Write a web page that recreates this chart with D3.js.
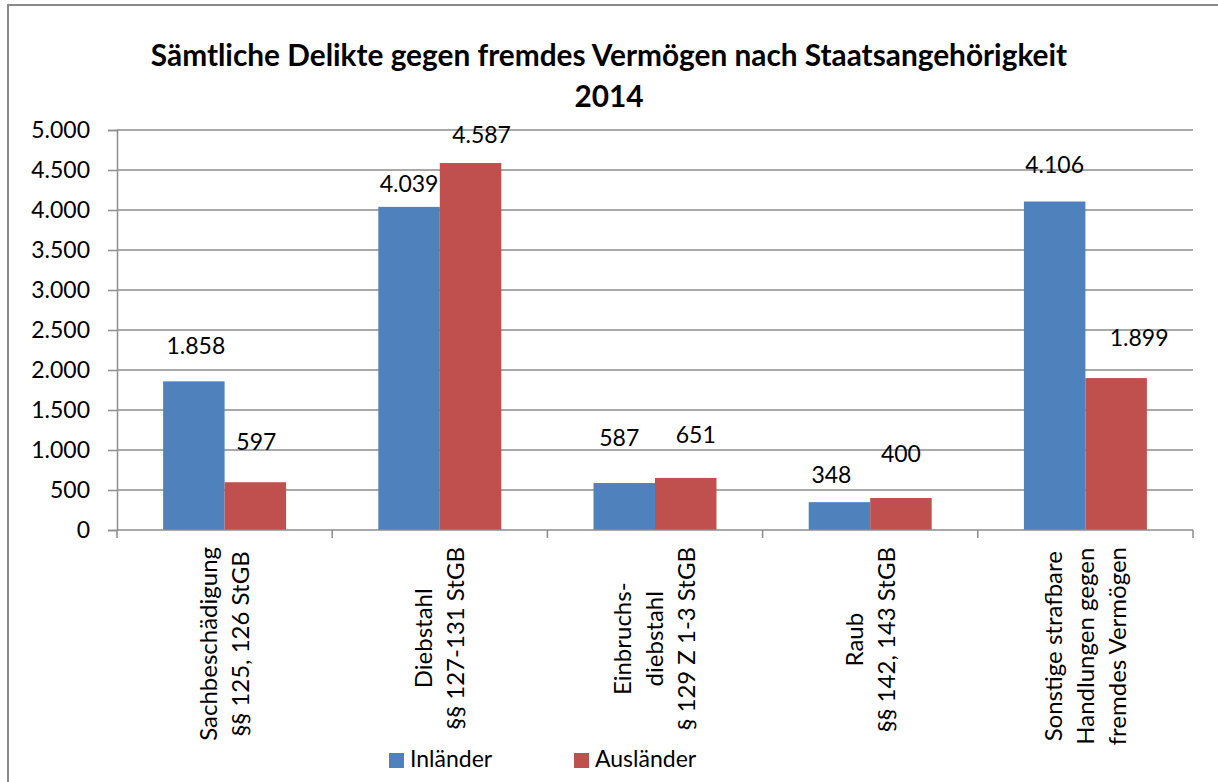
<!DOCTYPE html>
<html>
<head>
<meta charset="utf-8">
<script src="https://cdn.jsdelivr.net/npm/d3@7"></script>
<style>
  body { margin: 0; background: #fff; }
  svg { display: block; font-family: Lato, "Noto Sans", sans-serif; }
</style>
</head>
<body>
<svg id="chart" width="1218" height="782"></svg>
<script>
// data
var categories = [
  ["Sachbeschädigung", "§§ 125, 126 StGB"],
  ["Diebstahl", "§§ 127-131 StGB"],
  ["Einbruchs-", "diebstahl", "§ 129 Z 1-3 StGB"],
  ["Raub", "§§ 142, 143 StGB"],
  ["Sonstige strafbare", "Handlungen gegen", "fremdes Vermögen"]
];
var series = ["Inländer", "Ausländer"];
var inlaender = [1858, 4039, 587, 348, 4106];
var auslaender = [597, 4587, 651, 400, 1899];
var yTicks = [0, 500, 1000, 1500, 2000, 2500, 3000, 3500, 4000, 4500, 5000];
var colors = ["#4F81BD", "#C0504D"];

// labels in the original were nudged by hand: [dx, dy] of label centre from bar top
var labelShift = [
  [[2, -36], [0, -23], [-5, -45], [-8, -27], [0, -37]],
  [[1, -41], [11, -28], [10, -43], [0, -44], [23, -40]]
];

var svg = d3.select("#chart");
var margin = {top: 130, right: 25, bottom: 252, left: 117};
var width = 1218 - margin.left - margin.right;
var height = 782 - margin.top - margin.bottom;

var de = d3.formatLocale({decimal: ",", thousands: ".", grouping: [3], currency: ["", " €"]});
var fmt = de.format(",d");

// outer frame (right and bottom edges are cut off in the original)
svg.append("rect")
    .attr("x", 8).attr("y", 5)
    .attr("width", 1300).attr("height", 900)
    .attr("fill", "none")
    .attr("stroke", "#8a8a8a")
    .attr("stroke-width", 2);

svg.append("text")
    .attr("x", 609).attr("y", 66)
    .attr("text-anchor", "middle")
    .style("font-weight", "bold")
    .style("font-size", "29.8px")
    .text("Sämtliche Delikte gegen fremdes Vermögen nach Staatsangehörigkeit");
svg.append("text")
    .attr("x", 609).attr("y", 107)
    .attr("text-anchor", "middle")
    .style("font-weight", "bold")
    .style("font-size", "29.8px")
    .text("2014");

var g = svg.append("g").attr("transform", "translate(" + margin.left + "," + margin.top + ")");

var x0 = d3.scaleBand().domain(d3.range(categories.length)).range([0, width]);
var x1 = d3.scaleBand().domain(series).range([0, x0.bandwidth()]).paddingOuter(0.75);
var y = d3.scaleLinear().domain([0, 5000]).range([height, 0]);

// gridlines
g.append("g")
  .selectAll("line")
  .data(yTicks.slice(1))
  .enter().append("line")
    .attr("x1", 0).attr("x2", width)
    .attr("y1", function(d) { return y(d); })
    .attr("y2", function(d) { return y(d); })
    .attr("stroke", "#8c8c8c")
    .attr("stroke-width", 1.5);

var yAxis = g.append("g")
    .call(d3.axisLeft(y).tickValues(yTicks).tickSize(9).tickPadding(18).tickFormat(fmt));
yAxis.select(".domain").attr("stroke", "#8c8c8c").attr("stroke-width", 1.5);
yAxis.selectAll(".tick line").attr("stroke", "#8c8c8c").attr("stroke-width", 1.5);
yAxis.selectAll(".tick text")
    .style("font-family", "Lato, sans-serif")
    .style("font-size", "23px")
    .attr("fill", "#000");

// bars
var values = [inlaender, auslaender];
var groups = g.selectAll(".grp")
  .data(categories)
  .enter().append("g")
    .attr("class", "grp")
    .attr("transform", function(d, i) { return "translate(" + x0(i) + ",0)"; });

series.forEach(function(s, si) {
  groups.append("rect")
      .attr("x", x1(s))
      .attr("width", x1.bandwidth())
      .attr("y", function(d, i) { return y(values[si][i]); })
      .attr("height", function(d, i) { return height - y(values[si][i]); })
      .attr("fill", colors[si]);

  groups.append("text")
      .attr("x", function(d, i) { return x1(s) + x1.bandwidth() / 2 + labelShift[si][i][0]; })
      .attr("y", function(d, i) { return y(values[si][i]) + labelShift[si][i][1]; })
      .attr("dy", "0.36em")
      .attr("text-anchor", "middle")
      .style("font-size", "23px")
      .text(function(d, i) { return fmt(values[si][i]); });
});

// category axis
var xAxis = g.append("g").attr("transform", "translate(0," + height + ")");
xAxis.append("line")
    .attr("x1", 0).attr("x2", width)
    .attr("stroke", "#8c8c8c").attr("stroke-width", 1.5);
xAxis.selectAll(".tk")
  .data(d3.range(categories.length + 1))
  .enter().append("line")
    .attr("x1", function(d) { return d * x0.step(); })
    .attr("x2", function(d) { return d * x0.step(); })
    .attr("y1", 0).attr("y2", 8)
    .attr("stroke", "#8c8c8c").attr("stroke-width", 1.5);

var lineGap = 32;
var labels = xAxis.selectAll(".cat")
  .data(categories)
  .enter().append("g")
    .attr("class", "cat");

labels.each(function(lines, i) {
  var lab = d3.select(this);
  var t = lab.selectAll("text")
    .data(lines)
    .enter().append("text")
      .attr("text-anchor", "middle")
      .attr("y", function(d, j) { return (j - (lines.length - 1) / 2) * lineGap; })
      .attr("dy", "0.35em")
      .style("font-size", "24px")
      .text(function(d) { return d; });
  var longest = d3.max(t.nodes(), function(n) { return n.getComputedTextLength(); });
  lab.attr("transform", "translate(" + (x0(i) + x0.bandwidth() / 2) + "," + (17 + longest / 2) + ") rotate(-90)");
});

// legend
var legend = svg.append("g").attr("transform", "translate(0,767)");
var legX = [389, 574];
series.forEach(function(s, si) {
  legend.append("rect")
      .attr("x", legX[si]).attr("y", -14)
      .attr("width", 15).attr("height", 15)
      .attr("fill", colors[si]);
  legend.append("text")
      .attr("x", legX[si] + 21).attr("y", 0)
      .style("font-size", "23px")
      .text(s);
});
</script>
</body>
</html>
